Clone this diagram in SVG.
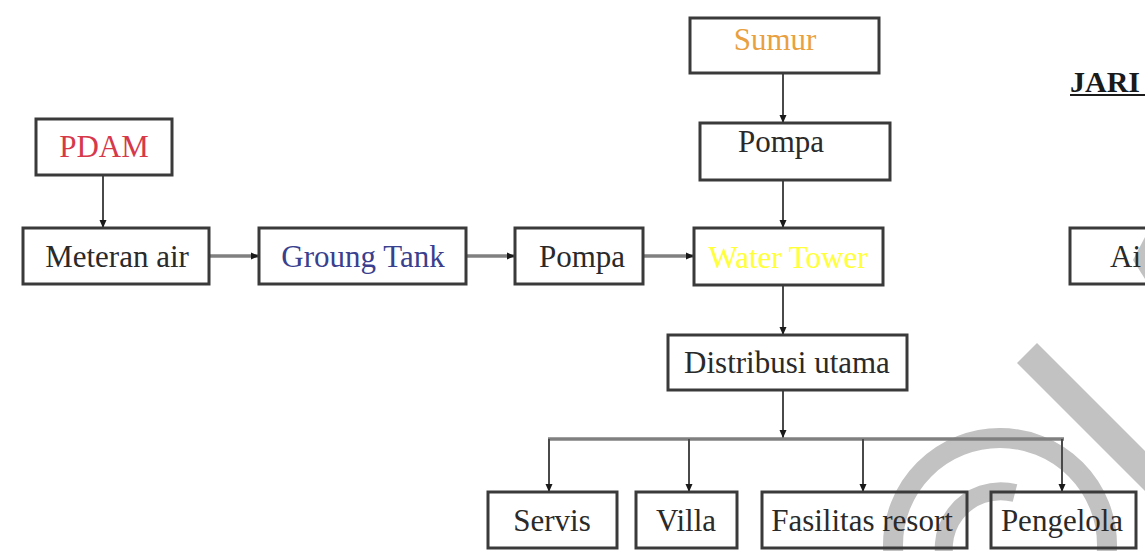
<svg xmlns="http://www.w3.org/2000/svg" width="1145" height="551" viewBox="0 0 1145 551">
<style>
.box{fill:none;stroke:#3a3a3a;stroke-width:3}
.t{font-family:"Liberation Serif","Times New Roman",serif;font-size:31px;fill:#2a2a2a;text-anchor:middle}
.h{fill:none;stroke:#808080;stroke-width:3.5}
.v{fill:none;stroke:#4a4a4a;stroke-width:2}
.wm{fill:#c2c2c2}
</style>
<defs>
<marker id="ah" viewBox="0 0 8 8" refX="8" refY="4" markerWidth="8" markerHeight="8" markerUnits="userSpaceOnUse" orient="auto">
<path d="M0,0.5 L8,4 L0,7.5 Z" fill="#1a1a1a"/>
</marker>
</defs>
<rect width="1145" height="551" fill="#ffffff"/>
<g id="watermark">
<polygon class="wm" points="1017,363 1037,343 1145,451 1145,491"/>
<circle cx="1000" cy="545" r="107" fill="none" stroke="#c2c2c2" stroke-width="20"/>
<path d="M 951 576 A 57 57 0 0 1 1015 493" fill="none" stroke="#c2c2c2" stroke-width="18"/>
<polygon class="wm" points="1145,237 1133,260 1145,279"/>
</g>
<g id="connectors">
<line class="v" x1="103" y1="175" x2="103" y2="228" marker-end="url(#ah)"/>
<line class="h" x1="209" y1="256" x2="259" y2="256" marker-end="url(#ah)"/>
<line class="h" x1="466" y1="256" x2="515" y2="256" marker-end="url(#ah)"/>
<line class="h" x1="643" y1="256" x2="694" y2="256" marker-end="url(#ah)"/>
<line class="v" x1="783" y1="73" x2="783" y2="123" marker-end="url(#ah)"/>
<line class="v" x1="783" y1="180" x2="783" y2="228" marker-end="url(#ah)"/>
<line class="v" x1="783" y1="285" x2="783" y2="335" marker-end="url(#ah)"/>
<line class="v" x1="783" y1="390" x2="783" y2="438" marker-end="url(#ah)"/>
<line class="h" x1="548" y1="439" x2="1064" y2="439" stroke-width="4"/>
<line class="v" x1="549" y1="439" x2="549" y2="492" marker-end="url(#ah)"/>
<line class="v" x1="689" y1="439" x2="689" y2="492" marker-end="url(#ah)"/>
<line class="v" x1="863" y1="439" x2="863" y2="492" stroke="#8a8a8a" marker-end="url(#ah)"/>
<line class="v" x1="1062" y1="439" x2="1062" y2="492" marker-end="url(#ah)"/>
</g>
<g id="sumur">
<rect class="box" x="690" y="18" width="189" height="55"/>
<text class="t" x="775" y="50" fill="#e9a040" style="fill:#e9a040">Sumur</text>
</g>
<g id="pompa-atas">
<rect class="box" x="700" y="123" width="190" height="57"/>
<text class="t" x="781" y="152">Pompa</text>
</g>
<g id="pdam">
<rect class="box" x="36" y="119" width="136" height="56"/>
<text class="t" x="104" y="157" style="fill:#d63a4a">PDAM</text>
</g>
<g id="meteran">
<rect class="box" x="23" y="228" width="186" height="56"/>
<text class="t" x="117" y="267">Meteran air</text>
</g>
<g id="groung">
<rect class="box" x="259" y="228" width="207" height="56"/>
<text class="t" x="363" y="267" style="fill:#3a3f8e">Groung Tank</text>
</g>
<g id="pompa-tengah">
<rect class="box" x="515" y="228" width="128" height="56"/>
<text class="t" x="582" y="267">Pompa</text>
</g>
<g id="water-tower">
<rect class="box" x="694" y="228" width="189" height="57"/>
<text class="t" x="788" y="268" style="fill:#ffff3a">Water Tower</text>
</g>
<g id="distribusi">
<rect class="box" x="668" y="335" width="239" height="55"/>
<text class="t" x="787" y="373">Distribusi utama</text>
</g>
<g id="servis">
<rect class="box" x="488" y="492" width="129" height="56"/>
<text class="t" x="552" y="531">Servis</text>
</g>
<g id="villa">
<rect class="box" x="636" y="492" width="101" height="56"/>
<text class="t" x="686" y="531">Villa</text>
</g>
<g id="fasilitas">
<rect class="box" x="762" y="492" width="205" height="56"/>
<text class="t" x="862" y="531">Fasilitas resort</text>
</g>
<g id="pengelola">
<rect class="box" x="991" y="492" width="145" height="56"/>
<text class="t" x="1062" y="531">Pengelola</text>
</g>
<g id="jari">
<text x="1070" y="92" style="font-family:'Liberation Serif','Times New Roman',serif;font-size:30px;font-weight:bold;fill:#1a1a1a">JARI</text>
<line x1="1070" y1="95" x2="1145" y2="95" stroke="#1a1a1a" stroke-width="2"/>
</g>
<g id="ai">
<rect class="box" x="1070" y="228" width="90" height="56"/>
<text x="1110" y="267" style="font-family:'Liberation Serif','Times New Roman',serif;font-size:31px;fill:#2a2a2a">Ai</text>
</g>
</svg>
